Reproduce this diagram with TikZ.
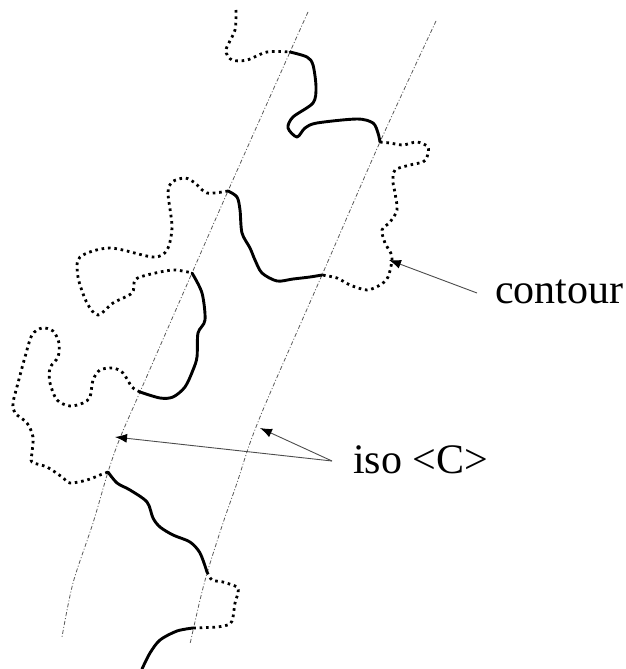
\documentclass[tikz,border=0pt]{standalone}
\usepackage{fontspec}
\setmainfont{Liberation Serif}
\usetikzlibrary{arrows.meta}
\begin{document}
\begin{tikzpicture}[x=1pt,y=-1pt,
  isoline/.style={draw=black!65,line width=0.8pt,dash pattern=on 4pt off 2pt on 1pt off 2pt},
  dotc/.style={draw=black,line width=2.8pt,dash pattern=on 2.6pt off 3.8pt},
  solidc/.style={draw=black,line width=2.9pt,line cap=round,line join=round},
  pointer/.style={draw=black!70,line width=0.9pt,-{Latex[length=12pt,width=9pt,color=black]}},
  lab/.style={font=\fontsize{42}{48}\selectfont,inner sep=0pt}]
\useasboundingbox (0,0) rectangle (626,669);
% iso <C> lines
\draw[isoline] plot[smooth] coordinates {(308,12) (290,52) (228,191) (192,273) (140,392) (120,438) (108,472) (93,523) (73,583) (62,637)};
\draw[isoline] plot[smooth] coordinates {(436,21) (380,142) (322,275) (268,398) (250,443) (237,483) (223,523) (208,570) (200,600) (190,644)};
% contour
\draw[dotc] plot[smooth] coordinates {(236,10) (235,30) (226,50) (232,60) (247,60) (267,52) (290,52)};
\draw[solidc] plot[smooth] coordinates {(290,52) (307,57) (313,65) (316,87) (313,103) (293,117) (288,128) (297,137) (305,128) (317,123) (357,119) (373,123) (378,133) (380,142)};
\draw[dotc] plot[smooth] coordinates {(380,142) (390,143) (403,145) (417,142) (428,147) (427,157) (423,162) (410,165) (395,170) (393,182) (395,193) (397,210) (390,222) (382,230) (385,243) (392,257) (388,277) (380,285) (367,290) (350,285) (337,278) (322,275)};
\draw[solidc] plot[smooth] coordinates {(322,275) (310,277) (293,279) (277,281) (262,273) (255,260) (250,248) (242,233) (240,210) (237,197) (228,191)};
\draw[dotc] plot[smooth] coordinates {(228,191) (207,193) (195,183) (185,178) (172,182) (168,193) (172,227) (167,250) (153,257) (110,248) (80,257) (78,277) (87,303) (98,315) (113,303) (132,293) (135,280) (147,275) (173,270) (192,273)};
\draw[solidc] plot[smooth] coordinates {(192,273) (202,293) (205,320) (198,333) (197,357) (193,370) (185,387) (173,397) (160,398) (140,392)};
\draw[dotc] plot[smooth] coordinates {(140,392) (132,387) (123,373) (113,368) (100,370) (93,380) (90,397) (83,403) (70,406) (57,400) (50,383) (50,368) (58,357) (59,343) (53,331) (42,328) (32,335) (25,357) (18,383) (13,403) (15,413) (27,423) (33,437) (32,453) (32,462) (47,467) (62,477) (70,483) (87,480) (100,475) (108,472)};
\draw[solidc] plot[smooth] coordinates {(108,472) (117,483) (130,490) (147,502) (153,518) (160,527) (173,535) (190,542) (200,553) (207,572)};
\draw[dotc] plot[smooth,tension=0.45] coordinates {(207,572) (212,580) (223,582) (237,587) (238,593) (235,603) (233,617) (230,624) (217,627) (193,628)};
\draw[solidc] plot[smooth] coordinates {(193,628) (177,631) (160,640) (150,653) (142,669)};
% labels
\node[lab,anchor=base west] (contour) at (495,303) {contour};
\node[lab,anchor=base west] (iso) at (353,473) {iso <C>};
\coordinate (cs) at (477,293);
\coordinate (ct) at (389,260);
\coordinate (is) at (332,461);
\coordinate (i1) at (115,437);
\coordinate (i2) at (260,428);
\draw[pointer] (cs) -- (ct);
\draw[pointer] (is) -- (i1);
\draw[pointer] (is) -- (i2);
\end{tikzpicture}
\end{document}
